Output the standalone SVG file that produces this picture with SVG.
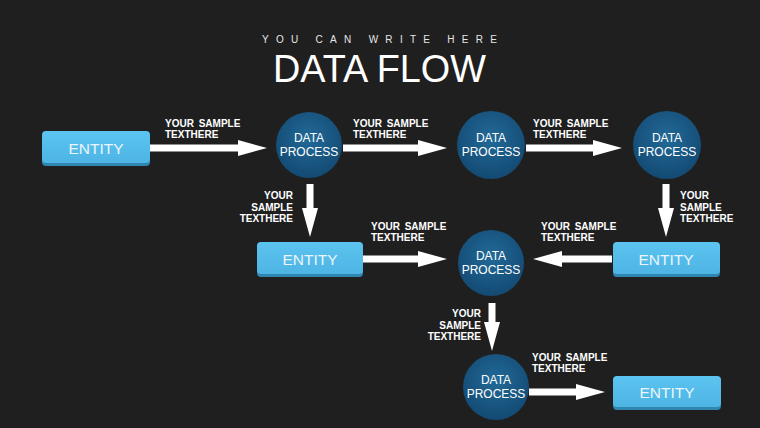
<svg xmlns="http://www.w3.org/2000/svg" width="760" height="428" viewBox="0 0 760 428">
<defs>
<radialGradient id="cg" cx="50%" cy="40%" r="60%">
<stop offset="0" stop-color="#226a98"/>
<stop offset="1" stop-color="#134a73"/>
</radialGradient>
<linearGradient id="eg" x1="0" y1="0" x2="0" y2="1">
<stop offset="0" stop-color="#5cc4f0"/>
<stop offset="1" stop-color="#4db4e4"/>
</linearGradient>
<marker id="ah" markerUnits="userSpaceOnUse" markerWidth="30" markerHeight="18" refX="1" refY="8" orient="auto">
<path d="M0,0 L29,8 L0,16 z" fill="#ffffff"/>
</marker>
</defs>
<style>
.ent-sh{fill:#2f86b0}
.ent{fill:url(#eg)}
.et{font-family:"Liberation Sans",Arial,sans-serif;font-size:15.5px;fill:#eaf6fc;text-anchor:middle}
.cir{fill:url(#cg)}
.ct{font-family:"Liberation Sans",Arial,sans-serif;font-size:12px;fill:#ffffff;text-anchor:middle}
.lb{font-family:"Liberation Sans",Arial,sans-serif;font-size:10px;font-weight:bold;fill:#ffffff;word-spacing:2px}
.r{text-anchor:end}
.ar{stroke:#ffffff;stroke-width:7;fill:none;marker-end:url(#ah)}
</style>
<rect x="0" y="0" width="760" height="428" fill="#1f1f1f"/>
<g id="title">
<text x="262" y="43" font-family="Liberation Sans,Arial,sans-serif" font-size="10" fill="#e6e6e6" textLength="235" lengthAdjust="spacing">YOU CAN WRITE HERE</text>
<text x="273" y="82" font-family="Liberation Sans,Arial,sans-serif" font-size="39" fill="#ffffff" textLength="213" lengthAdjust="spacingAndGlyphs">DATA FLOW</text>
</g>
<g id="connectors">
<line class="ar" x1="150" y1="148" x2="239" y2="148"/>
<line class="ar" x1="343" y1="148" x2="419" y2="148"/>
<line class="ar" x1="526" y1="148" x2="594" y2="148"/>
<line class="ar" x1="310" y1="184" x2="310" y2="209"/>
<line class="ar" x1="666" y1="184" x2="666" y2="209"/>
<line class="ar" x1="363" y1="259" x2="419" y2="259"/>
<line class="ar" x1="612" y1="259" x2="561" y2="259"/>
<line class="ar" x1="492" y1="303" x2="492" y2="323"/>
<line class="ar" x1="529" y1="392" x2="577" y2="392"/>
</g>
<g id="e1">
<rect class="ent-sh" x="42" y="133" width="108" height="33" rx="4"/>
<rect class="ent" x="42" y="131" width="108" height="32" rx="4"/>
<text class="et" x="96" y="154">ENTITY</text>
</g>
<g id="p1">
<circle class="cir" cx="309" cy="145" r="33"/>
<text class="ct" x="309" y="142">DATA</text>
<text class="ct" x="309" y="156">PROCESS</text>
</g>
<g id="p2">
<circle class="cir" cx="491" cy="145" r="34"/>
<text class="ct" x="491" y="142">DATA</text>
<text class="ct" x="491" y="156">PROCESS</text>
</g>
<g id="p3">
<circle class="cir" cx="667" cy="145" r="34"/>
<text class="ct" x="667" y="142">DATA</text>
<text class="ct" x="667" y="156">PROCESS</text>
</g>
<g id="e2">
<rect class="ent-sh" x="257" y="244" width="106" height="33" rx="4"/>
<rect class="ent" x="257" y="242" width="106" height="32" rx="4"/>
<text class="et" x="310" y="265">ENTITY</text>
</g>
<g id="p4">
<circle class="cir" cx="491" cy="263" r="33"/>
<text class="ct" x="491" y="260">DATA</text>
<text class="ct" x="491" y="274">PROCESS</text>
</g>
<g id="e3">
<rect class="ent-sh" x="613" y="244" width="107" height="33" rx="4"/>
<rect class="ent" x="613" y="242" width="107" height="32" rx="4"/>
<text class="et" x="666" y="265">ENTITY</text>
</g>
<g id="p5">
<circle class="cir" cx="496" cy="387" r="33"/>
<text class="ct" x="496" y="384">DATA</text>
<text class="ct" x="496" y="398">PROCESS</text>
</g>
<g id="e4">
<rect class="ent-sh" x="613" y="378" width="108" height="32" rx="4"/>
<rect class="ent" x="613" y="376" width="108" height="31" rx="4"/>
<text class="et" x="667" y="398">ENTITY</text>
</g>
<g id="labels">
<text class="lb" x="165" y="127">YOUR SAMPLE</text>
<text class="lb" x="165" y="138">TEXTHERE</text>
<text class="lb" x="353" y="127">YOUR SAMPLE</text>
<text class="lb" x="353" y="138">TEXTHERE</text>
<text class="lb" x="533" y="127">YOUR SAMPLE</text>
<text class="lb" x="533" y="138">TEXTHERE</text>
<text class="lb r" x="293" y="199">YOUR</text>
<text class="lb r" x="293" y="210.5">SAMPLE</text>
<text class="lb r" x="293" y="221.5">TEXTHERE</text>
<text class="lb" x="680" y="199">YOUR</text>
<text class="lb" x="680" y="210.5">SAMPLE</text>
<text class="lb" x="680" y="221.5">TEXTHERE</text>
<text class="lb" x="371" y="230">YOUR SAMPLE</text>
<text class="lb" x="371" y="241">TEXTHERE</text>
<text class="lb" x="541" y="230">YOUR SAMPLE</text>
<text class="lb" x="541" y="241">TEXTHERE</text>
<text class="lb r" x="481" y="317">YOUR</text>
<text class="lb r" x="481" y="328.5">SAMPLE</text>
<text class="lb r" x="481" y="339.5">TEXTHERE</text>
<text class="lb" x="532" y="361">YOUR SAMPLE</text>
<text class="lb" x="532" y="372">TEXTHERE</text>
</g>
</svg>
